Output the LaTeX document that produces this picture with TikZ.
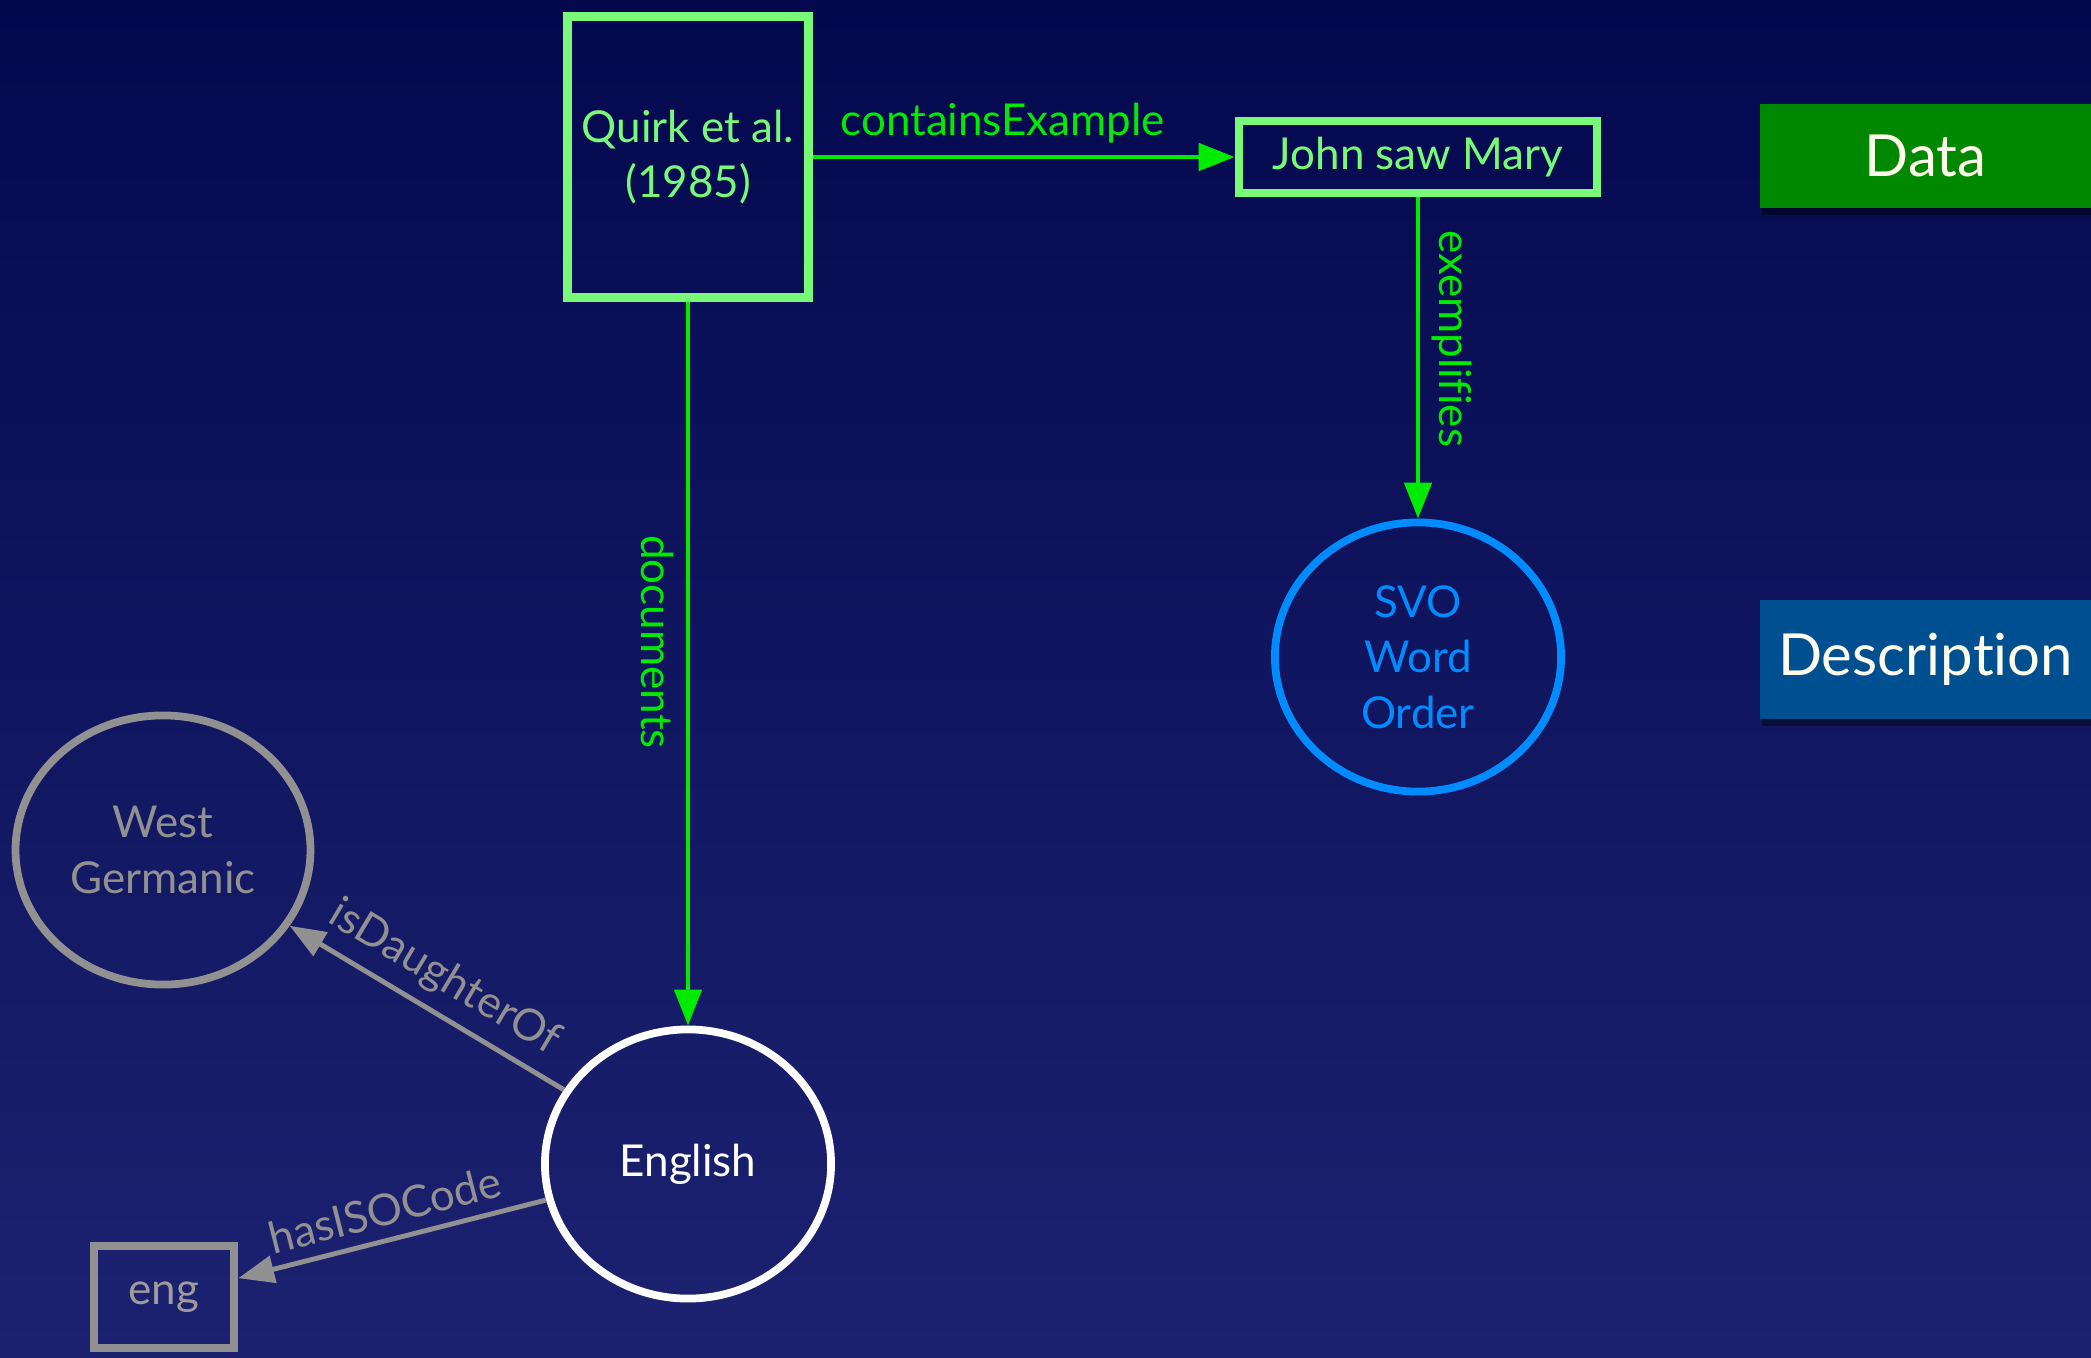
\documentclass[tikz,border=0pt]{standalone}
\usepackage{fontspec}
\setmainfont{Lato}[Ligatures=NoCommon]
\usetikzlibrary{positioning, arrows.meta, shapes.geometric, shadows}
\definecolor{fondoarriba}{RGB}{4,9,78}
\definecolor{fondoabajo}{RGB}{28,34,112}
\definecolor{verdeclaro}{RGB}{120,250,120}
\definecolor{verde}{RGB}{0,235,0}
\definecolor{azul}{RGB}{0,140,255}
\definecolor{gris}{RGB}{145,145,145}
\definecolor{verdedatos}{RGB}{0,136,0}
\definecolor{azuldesc}{RGB}{0,80,145}
\definecolor{crema}{RGB}{255,252,235}
\tikzset{
	>={Triangle[length=0.36cm, width=0.27cm]}, % Punta de flecha rellena
	every node/.style={font=\fontsize{12.5}{15.8}\selectfont, align=center}, % Texto de los nodos
	flecha/.style={->, line width=1.4pt}, % Arcos dirigidos
	caja/.style={draw=verdeclaro, text=verdeclaro, line width=2.4pt, rectangle}, % Nodos rectangulares
	circulo/.style={ellipse, line width=2.2pt, minimum width=2.86cm, minimum height=2.69cm}, % Nodos redondos
	categoria/.style={text=crema, minimum width=3.31cm, minimum height=1.04cm,
		font=\fontsize{16.5}{20}\selectfont,
		drop shadow={shadow xshift=0.02cm, shadow yshift=-0.07cm, opacity=0.45, fill=black}} % Cajas de la derecha
}

\begin{document}
\begin{tikzpicture}[x=0.01cm, y=-0.01cm]
				\fill[top color=fondoarriba, bottom color=fondoabajo] (0,0) rectangle (2091,1357);
				\useasboundingbox (0,0) rectangle (2091,1357);
				\node[caja, minimum width=2.41cm, minimum height=2.81cm] (quirk) at (688,157) {Quirk et al.\\(1985)};
				\node[caja, minimum width=3.58cm, minimum height=0.72cm] (john) at (1418,157) {John saw Mary};
				\node[circulo, draw=azul, text=azul] (svo) at (1418,657) {SVO\\Word\\Order};
				\node[circulo, draw=white, text=white] (english) at (688,1164) {English};
				\node[circulo, draw=gris, text=gris] (germanic) at (163,850) {West\\Germanic};
				\node[caja, draw=gris, text=gris!90!white, minimum width=1.4cm, minimum height=1.02cm] (eng) at (164,1297) {eng};
				\node[categoria, fill=verdedatos] (data) at (1925.5,156) {Data};
				\node[categoria, fill=azuldesc, minimum height=1.19cm] (description) at (1925.5,659.5) {Descrip\kern0ptt\kern0ption};
				\draw[flecha, verde]
						(quirk) edge node[pos=0.45, above] {containsExample} (john)
						(quirk) edge node[pos=0.47, sloped, below] {documents} (english)
						(john) edge node[pos=0.44, sloped, above] {exemplifies} (svo);
				\draw[flecha, gris]
						(english) edge node[sloped, above] {isDaughterOf} (germanic)
						(english) edge node[sloped, above] {hasISOCode} (eng);
			\end{tikzpicture}
\end{document}
